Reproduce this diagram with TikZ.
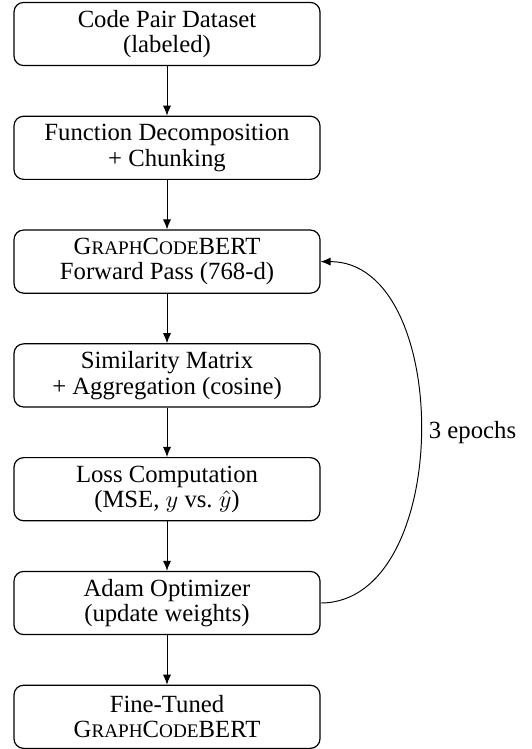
\documentclass[tikz,border=0pt]{standalone}
\usepackage{fontspec}
\setmainfont{Liberation Serif}
\usetikzlibrary{arrows.meta}
% small capitals built from reduced upper-case letters
\newcommand{\smallcapsfake}[1]{{\fontsize{8}{8}\selectfont #1}}
\newcommand{\gcb}{G\smallcapsfake{RAPH}C\smallcapsfake{ODE}BERT}
\tikzset{
  stagebox/.style={draw, line width=0.5pt, rounded corners=4pt,
    minimum width=127.5pt, minimum height=26.3pt, align=center,
    inner sep=0pt, font=\fontsize{10.3}{10.6}\selectfont},
  flowarrow/.style={-{Latex[length=4.2pt,width=3.4pt]}, line width=0.4pt},
  loopback/.style={-{Latex[length=4.2pt,width=3.4pt]}, line width=0.4pt}
}
\begin{document}
\begin{tikzpicture}[x=0.41667pt, y=-0.41667pt]
\useasboundingbox (0,0) rectangle (532,749);
\node[stagebox] (data)  at (167,34.0)  {Code Pair Dataset\\(labeled)};
\node[stagebox] (decomp) at (167,147.8) {Function Decomposition\\+ Chunking};
\node[stagebox] (fwd)   at (167,261.6) {\gcb\\Forward Pass (768-d)};
\node[stagebox] (sim)   at (167,375.4) {Similarity Matrix\\+ Aggregation (cosine)};
\node[stagebox] (loss)  at (167,489.2) {Loss Computation\\(MSE, $y$ vs.\ $\hat{y}$)};
\node[stagebox] (adam)  at (167,603.0) {Adam Optimizer\\(update weights)};
\node[stagebox] (final) at (167,716.8) {Fine-Tuned\\\gcb};
\draw[flowarrow] (data) -- (decomp);
\draw[flowarrow] (decomp) -- (fwd);
\draw[flowarrow] (fwd) -- (sim);
\draw[flowarrow] (sim) -- (loss);
\draw[flowarrow] (loss) -- (adam);
\draw[flowarrow] (adam) -- (final);
\draw[loopback] (adam.east) to[out=0, in=0, looseness=1]
  node[right, font=\fontsize{10.3}{12}\selectfont] {3 epochs} (fwd.east);
\end{tikzpicture}
\end{document}
